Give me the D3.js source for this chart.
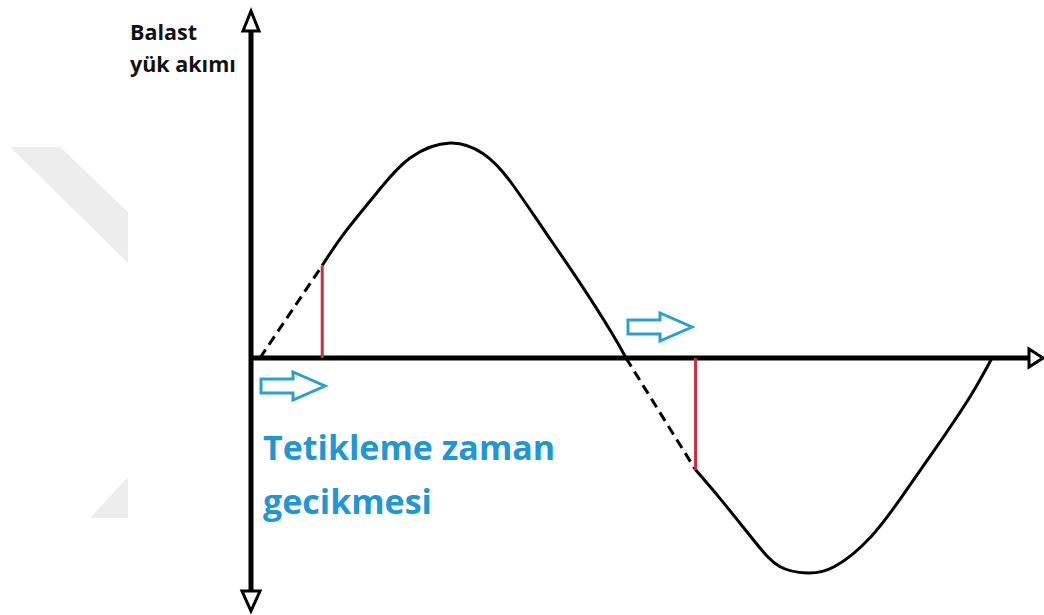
<!DOCTYPE html>
<html>
<head>
<meta charset="UTF-8">
<title>Balast yük akımı</title>
<script src="https://d3js.org/d3.v7.min.js"></script>
<style>
  html, body { margin: 0; padding: 0; background: #fff; }
  svg { display: block; }
</style>
</head>
<body>
<div id="svg"></div>
<script>
// zaman (ms) ve akım (birim genlik) - resimden okunan noktalar
const time    = [0, 1.7, 2.3, 3.2, 4.1, 5.2, 6.1, 6.8, 7.7, 8.7, 9.6, 10.0,
                 11.9, 12.6, 13.5, 14.2, 14.95, 15.7, 16.7, 17.6, 18.5, 19.4, 20.0];
const current = [0, 0.43, 0.58, 0.77, 0.93, 1.0, 0.95, 0.83, 0.61, 0.36, 0.12, 0,
                 -0.52, -0.66, -0.85, -0.97, -1.0, -0.97, -0.83, -0.63, -0.41, -0.18, 0];
// tetikleme anları (ms) ve yarım periyot başlangıçları
const halfStart = [0, 10.0];
const halfEnd   = [10.0, 20.0];
const trigger   = [1.7, 11.9];

const yLabel = ["Balast", "yük akımı"];
const note   = ["Tetikleme zaman", "gecikmesi"];

const width = 1044, height = 615;
const x0 = 251, yZero = 358; // eksenlerin kesiştiği yer

const svg = d3.select("#svg").append("svg").attr("width", width).attr("height", height);

// arka plandaki soluk filigran
svg.append("path").attr("d", "M10,147 L60,147 L128,212 L128,263 Z").attr("fill", "#ededed");
svg.append("path").attr("d", "M128,477 L90,518 L128,518 Z").attr("fill", "#ededed");

const xScale = d3.scaleLinear().domain([0, 20]).range([260, 992]);
const yScale = d3.scaleLinear().domain([-1, 1]).range([573, 143]);

const pts = time.map((t, i) => ({t: t, v: current[i]}));
const valueAt = t => current[time.indexOf(t)];

// eksenler
const axes = svg.append("g").attr("stroke", "#000").attr("stroke-width", 5);
axes.append("line").attr("x1", x0).attr("x2", x0).attr("y1", 30).attr("y2", 592);
axes.append("line").attr("x1", x0 - 2).attr("x2", 1030).attr("y1", yZero).attr("y2", yZero);

const heads = svg.append("g").attr("fill", "#fff").attr("stroke", "#000")
  .attr("stroke-width", 3).attr("stroke-linejoin", "miter");
heads.append("path").attr("d", `M${x0},11 L${x0 + 8},31 L${x0 - 8},31 Z`);
heads.append("path").attr("d", `M${x0},611 L${x0 + 9},591 L${x0 - 9},591 Z`);
heads.append("path").attr("d", `M1043,${yZero} L1029,${yZero - 9} L1029,${yZero + 9} Z`);

// dalga: tetiklemeden sonra düz, öncesi kesikli
const line = d3.line()
  .x(d => xScale(d.t))
  .y(d => yScale(d.v))
  .curve(d3.curveNatural);

halfStart.forEach((s, k) => {
  const seg = pts.filter(d => d.t >= trigger[k] && d.t <= halfEnd[k]);
  svg.append("path").attr("d", line(seg))
    .attr("fill", "none").attr("stroke", "#000").attr("stroke-width", 3);

  svg.append("line")
    .attr("x1", xScale(s)).attr("y1", yScale(0))
    .attr("x2", xScale(trigger[k])).attr("y2", yScale(valueAt(trigger[k])))
    .attr("stroke", "#000").attr("stroke-width", 3)
    .attr("stroke-dasharray", "10,6");

  svg.append("line")
    .attr("x1", xScale(trigger[k])).attr("x2", xScale(trigger[k]))
    .attr("y1", yScale(0)).attr("y2", yScale(valueAt(trigger[k])))
    .attr("stroke", "#c8323f").attr("stroke-width", 3);
});

// mavi oklar
const arrows = [
  {x: 261, y: 386},
  {x: 628, y: 327}
];
const arrowPath = a => `M${a.x},${a.y - 7} L${a.x + 32},${a.y - 7} L${a.x + 32},${a.y - 14}
  L${a.x + 64},${a.y} L${a.x + 32},${a.y + 14} L${a.x + 32},${a.y + 7} L${a.x},${a.y + 7} Z`;
svg.selectAll(".arrow").data(arrows).enter().append("path")
  .attr("class", "arrow")
  .attr("d", arrowPath)
  .attr("fill", "#fff").attr("stroke", "#2a9fd4").attr("stroke-width", 3)
  .attr("stroke-linejoin", "miter");

// yazılar
svg.append("g").selectAll("text").data(yLabel).enter().append("text")
  .attr("x", 130).attr("y", (d, i) => 40 + i * 32)
  .attr("font-family", "Open Sans, sans-serif").attr("font-weight", "bold")
  .attr("font-size", 21.5).attr("fill", "#111")
  .text(d => d);

svg.append("g").selectAll("text").data(note).enter().append("text")
  .attr("x", 263).attr("y", (d, i) => 460 + i * 54)
  .attr("font-family", "Open Sans, sans-serif").attr("font-weight", "bold")
  .attr("font-size", 34).attr("fill", "#1f97d4")
  .text(d => d);
</script>
</body>
</html>
